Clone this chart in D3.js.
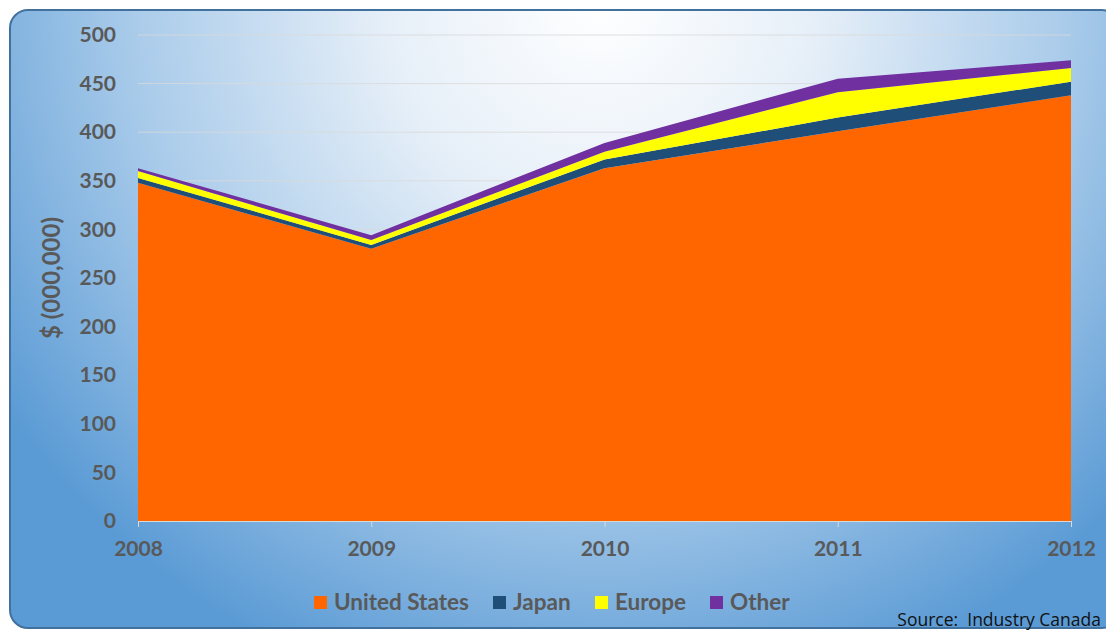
<!DOCTYPE html>
<html><head><meta charset="utf-8">
<script src="https://cdn.jsdelivr.net/npm/d3@7"></script>
<style>html,body{margin:0;padding:0;background:#fff;}svg{display:block;}</style>
</head><body>
<svg id="chart" width="1106" height="630"></svg>
<script>
const years = ["2008","2009","2010","2011","2012"];
const seriesNames = ["United States","Japan","Europe","Other"];
const unitedStates = [348, 280, 363, 401, 438];
const japan = [5, 4, 9, 14, 14];
const europe = [7, 5, 8, 26, 14];
const other = [3, 5, 9, 14, 8];
const yTicks = [0,50,100,150,200,250,300,350,400,450,500];
const colors = ["#ff6600","#1f4e79","#ffff00","#7030a0"];

const svg = d3.select("#chart");
const defs = svg.append("defs");
const grad = defs.append("radialGradient").attr("id","bg")
  .attr("gradientUnits","userSpaceOnUse").attr("cx",600).attr("cy",0).attr("r",720)
  .attr("fx",600).attr("fy",0);
grad.append("stop").attr("offset","0").attr("stop-color","#ffffff");
grad.append("stop").attr("offset","0.3").attr("stop-color","#e6eff8");
grad.append("stop").attr("offset","0.65").attr("stop-color","#a9cbea");
grad.append("stop").attr("offset","1").attr("stop-color","#5b9bd5");

svg.append("rect").attr("x",10).attr("y",10).attr("width",1110).attr("height",618)
  .attr("rx",18).attr("ry",18).attr("fill","url(#bg)")
  .attr("stroke","#41719c").attr("stroke-width",2);

const x = d3.scalePoint().domain(years).range([138,1071]);
const y = d3.scaleLinear().domain([0,500]).range([521,35]);

const table = years.map((yr,i)=>({year:yr,"United States":unitedStates[i],"Japan":japan[i],"Europe":europe[i],"Other":other[i]}));
const stacked = d3.stack().keys(seriesNames)(table);

// gridlines
svg.append("g").selectAll("line").data(yTicks.filter(d=>d>0)).join("line")
  .attr("x1",138).attr("x2",1071).attr("y1",d=>y(d)).attr("y2",d=>y(d))
  .attr("stroke","#d9d9d9").attr("stroke-opacity",0.8).attr("stroke-width",1);

const area = d3.area().x(d=>x(d.data.year)).y0(d=>y(d[0])).y1(d=>y(d[1]));
svg.append("g").selectAll("path").data(stacked).join("path")
  .attr("d",area).attr("fill",(d,i)=>colors[i]);

// axes
const font = "Lato, 'Open Sans', sans-serif";
const yAxis = svg.append("g").attr("transform","translate(138,0)")
  .call(d3.axisLeft(y).tickValues(yTicks).tickSize(0).tickPadding(22));
yAxis.select(".domain").remove();
yAxis.selectAll("text").attr("font-family",font).attr("font-weight","bold")
  .attr("font-size","21px").attr("fill","#595959");

const xAxis = svg.append("g").attr("transform","translate(0,521)")
  .call(d3.axisBottom(x).tickSize(6).tickPadding(14));
xAxis.select(".domain").attr("stroke","#d9d9d9").attr("d","M138,0.5H1071");
xAxis.selectAll(".tick line").attr("stroke","#d9d9d9");
xAxis.selectAll("text").attr("font-family",font).attr("font-weight","bold")
  .attr("font-size","21px").attr("fill","#595959");

svg.append("text").attr("transform","translate(60,278) rotate(-90)")
  .attr("text-anchor","middle").attr("font-family",font).attr("font-weight","bold")
  .attr("font-size","24px").attr("fill","#595959").text("$ (000,000)");

// legend
const legendX = [314, 493, 595, 710];
const lg = svg.append("g");
seriesNames.forEach((n,i)=>{
  lg.append("rect").attr("x",legendX[i]).attr("y",596).attr("width",13).attr("height",13).attr("fill",colors[i]);
  lg.append("text").attr("x",legendX[i]+20).attr("y",610).attr("font-family",font)
    .attr("font-weight","bold").attr("font-size","22.5px").attr("fill","#595959").text(n);
});

svg.append("text").attr("x",1101).attr("y",626).attr("text-anchor","end")
  .attr("font-family","'Open Sans', sans-serif").attr("font-size","17.5px").attr("fill","#111")
  .attr("xml:space","preserve").style("white-space","pre").text("Source:  Industry Canada");
</script>
</body></html>
